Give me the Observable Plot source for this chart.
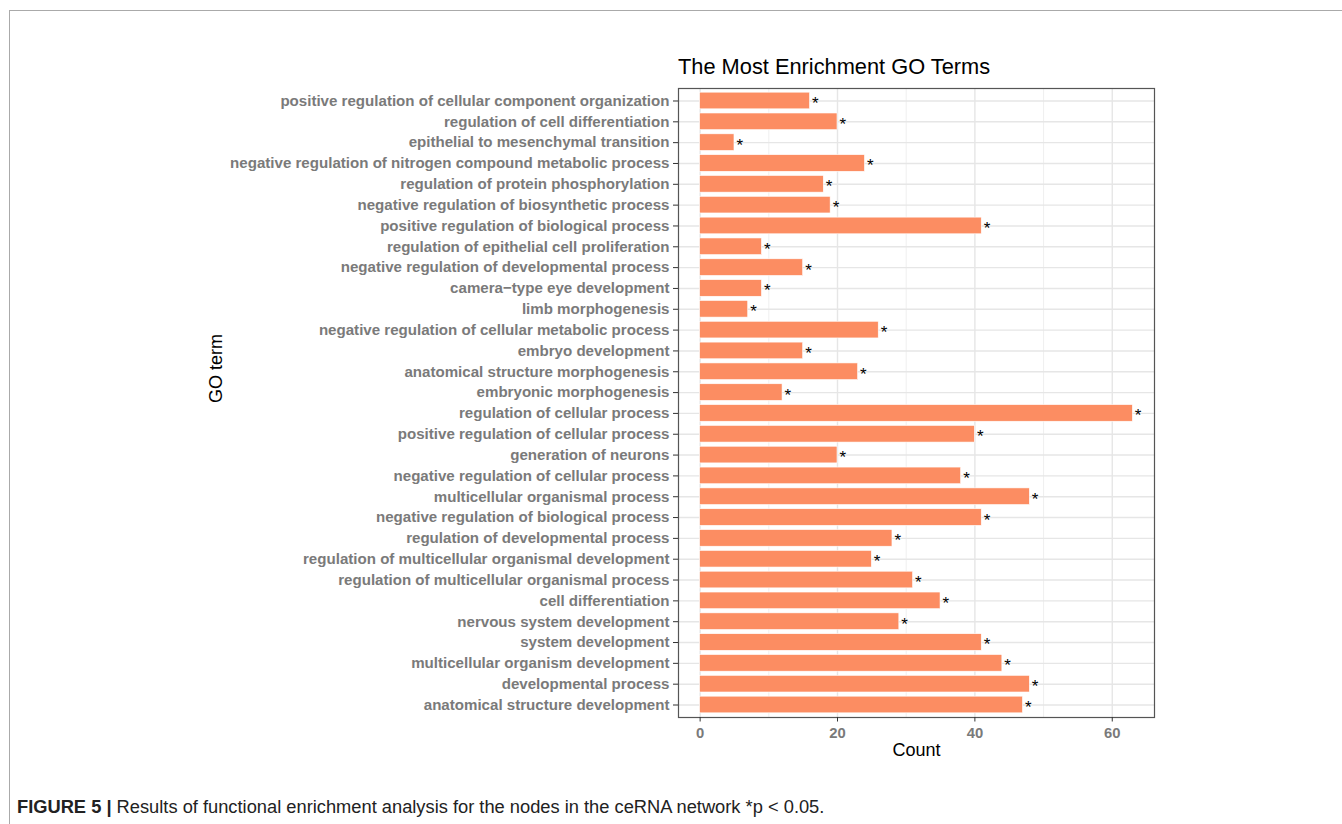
<!DOCTYPE html>
<html><head><meta charset="utf-8">
<script src="https://cdn.jsdelivr.net/npm/d3@7"></script>
<script src="https://cdn.jsdelivr.net/npm/@observablehq/plot@0.6"></script>
<style>
body{margin:0;background:#fff;font-family:"Liberation Sans",Arial,sans-serif;}
#wrap{position:relative;width:1342px;height:824px;overflow:hidden;background:#fff;}
#frame{position:absolute;left:9px;top:10px;width:1340px;height:820px;border-top:1.3px solid #aaa;border-left:1.3px solid #aaa;}
#title{position:absolute;left:678px;top:56px;font-size:21.8px;line-height:1;color:#000;white-space:nowrap;}
#chart{position:absolute;left:0;top:0;}
#caption{position:absolute;left:17px;top:798px;font-size:18.3px;line-height:1;color:#222;white-space:nowrap;}
</style></head>
<body>
<div id="wrap">
  <div id="frame"></div>
  <div id="chart"></div>
  <div id="title">The Most Enrichment GO Terms</div>
  <div id="caption"><b>FIGURE 5 |</b> Results of functional enrichment analysis for the nodes in the ceRNA network *p &lt; 0.05.</div>
</div>
<script>
const terms = [
  "positive regulation of cellular component organization",
  "regulation of cell differentiation",
  "epithelial to mesenchymal transition",
  "negative regulation of nitrogen compound metabolic process",
  "regulation of protein phosphorylation",
  "negative regulation of biosynthetic process",
  "positive regulation of biological process",
  "regulation of epithelial cell proliferation",
  "negative regulation of developmental process",
  "camera\u2212type eye development",
  "limb morphogenesis",
  "negative regulation of cellular metabolic process",
  "embryo development",
  "anatomical structure morphogenesis",
  "embryonic morphogenesis",
  "regulation of cellular process",
  "positive regulation of cellular process",
  "generation of neurons",
  "negative regulation of cellular process",
  "multicellular organismal process",
  "negative regulation of biological process",
  "regulation of developmental process",
  "regulation of multicellular organismal development",
  "regulation of multicellular organismal process",
  "cell differentiation",
  "nervous system development",
  "system development",
  "multicellular organism development",
  "developmental process",
  "anatomical structure development"
];
const counts = [16, 20, 5, 24, 18, 19, 41, 9, 15, 9, 7, 26, 15, 23, 12, 63, 40, 20, 38, 48, 41, 28, 25, 31, 35, 29, 41, 44, 48, 47];
const xTicks = [0, 20, 40, 60];
const xMinorTicks = [10, 30, 50];
const xAxisLabel = "Count";
const yAxisLabel = "GO term";
const marker = "*";

const data = terms.map((t, i) => ({term: t, count: counts[i]}));

const W = 1342, H = 824;
const chart = Plot.plot({
  width: W, height: H,
  marginTop: 88, marginBottom: H - 717, marginLeft: 678, marginRight: W - 1154,
  style: {fontFamily: "'Liberation Sans', Arial, sans-serif", background: "transparent", overflow: "visible"},
  x: {domain: [-3.15, 66.15], label: null},
  y: {domain: terms, paddingInner: 0.2, paddingOuter: 0.2, round: false, label: null},
  marks: [
    Plot.gridX(xMinorTicks, {stroke: "#ebebeb", strokeOpacity: 1, strokeWidth: 0.8}),
    Plot.gridX(xTicks, {stroke: "#e6e6e6", strokeOpacity: 1, strokeWidth: 1.4}),
    Plot.gridY(terms, {stroke: "#e6e6e6", strokeOpacity: 1, strokeWidth: 1.4}),
    Plot.barX(data, {x: "count", y: "term", fill: "#FC8D62", stroke: "#fff", strokeWidth: 0.6}),
    Plot.text(data, {x: "count", y: "term", text: () => marker, textAnchor: "start", dx: 2, dy: 2.5, fontSize: 17, fill: "#000"}),
    Plot.frame({stroke: "#555", strokeWidth: 1.2}),
    Plot.axisX(xTicks, {tickSize: 4.5, tickPadding: 5, fontSize: 14.8, fontWeight: "bold", fill: "#7a7a7a", stroke: "#333", label: null}),
    Plot.axisY({tickSize: 5, tickPadding: 4, fontSize: 15.1, fontWeight: "bold", fill: "#7a7a7a", stroke: "#333", label: null}),
    Plot.text([xAxisLabel], {text: d => d, frameAnchor: "bottom", dy: 38, fontSize: 18, fill: "#000"}),
    Plot.text([yAxisLabel], {text: d => d, frameAnchor: "left", rotate: -90, dx: -462, fontSize: 18, fill: "#000"})
  ]
});
document.getElementById("chart").appendChild(chart);
</script>
</body></html>
